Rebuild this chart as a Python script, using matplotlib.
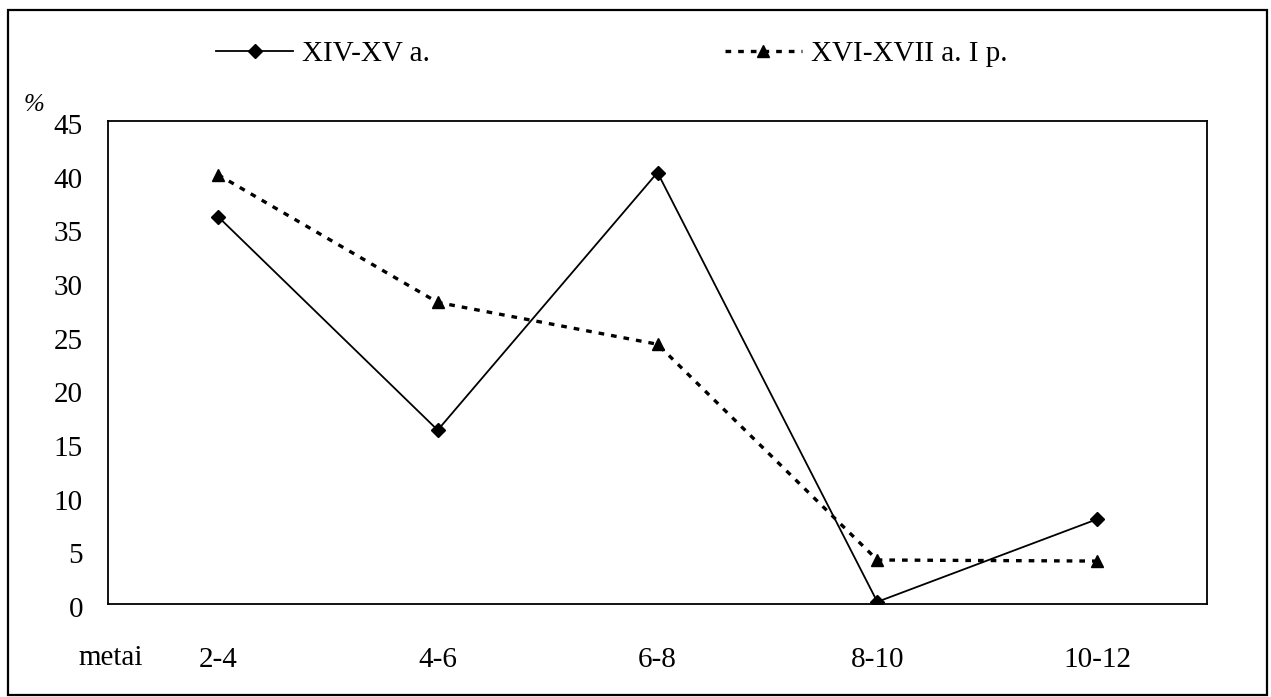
import matplotlib
matplotlib.use("Agg")
import matplotlib.pyplot as plt
from matplotlib.patches import Rectangle
from matplotlib.lines import Line2D
from matplotlib.transforms import ScaledTranslation

categories = ["2-4", "4-6", "6-8", "8-10", "10-12"]
series1_name = "XIV-XV a."
series1 = [36.1, 16.2, 40.2, 0.2, 7.9]
series2_name = "XVI-XVII a. I p."
series2 = [40.0, 28.1, 24.2, 4.1, 4.0]
yticks = [0, 5, 10, 15, 20, 25, 30, 35, 40, 45]

W, H = 1271, 697
plt.rcParams['font.family'] = ['Liberation Serif', 'DejaVu Serif']
fig = plt.figure(figsize=(W / 100, H / 100), dpi=100)

def fx(px):
    return px / W

def fy(py):
    return 1 - py / H

# outer frame
fig.patches.append(Rectangle((fx(8), fy(695)), fx(1267) - fx(8), fy(10) - fy(695),
                             transform=fig.transFigure, fill=False, lw=1.6, ec='black'))

FS = 21
ax = fig.add_axes([fx(108), fy(604), fx(1207) - fx(108), fy(121) - fy(604)])
x = list(range(len(categories)))
ls2 = (0, (1.7, 2.1))
ax.plot(x, series1, color='black', lw=1.3, marker='D', ms=7, label=series1_name)
ax.plot(x, series2, color='black', lw=2.4, ls=ls2, marker='^', ms=9,
        label=series2_name)
ax.set_xlim(-0.5, len(categories) - 0.5)
ax.set_ylim(0, 45)
ax.set_xticks(x)
ax.set_xticklabels(categories, fontsize=FS)
ax.tick_params(axis='x', length=0, pad=31)
ax.set_yticks(yticks)
ax.set_yticklabels([str(v) for v in yticks], fontsize=FS)
ax.tick_params(axis='y', length=0, pad=18)
off = ScaledTranslation(0, -3 / 100, fig.dpi_scale_trans)
for t in ax.get_yticklabels():
    t.set_transform(t.get_transform() + off)
for s in ax.spines.values():
    s.set_linewidth(1.3)

fig.text(fx(111), fy(658), "metai", fontsize=FS, ha='center', va='center')
fig.text(fx(34), fy(105), "%", fontsize=18, ha='center', va='center', style='italic')

# legend
h1 = Line2D([], [], color='black', lw=1.3, marker='D', ms=7)
h2 = Line2D([], [], color='black', lw=2.4, ls=ls2, marker='^', ms=9)
fig.legend([h1, h2], [series1_name, series2_name], loc='center left',
           bbox_to_anchor=(fx(216), fy(54)), ncol=2, frameon=False, fontsize=FS,
           handlelength=2.65, handletextpad=0.3, columnspacing=10.1,
           borderpad=0, borderaxespad=0)

fig.savefig("out.png", dpi=100)
